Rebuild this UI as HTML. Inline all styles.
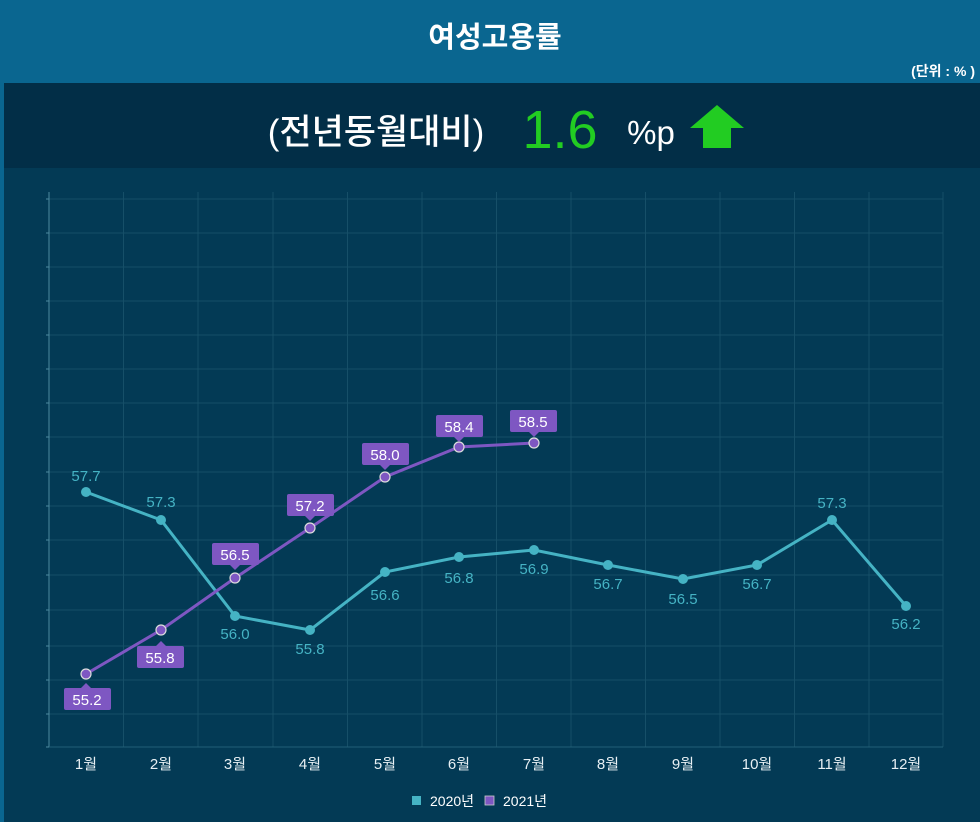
<!DOCTYPE html>
<html><head><meta charset="utf-8"><style>
body{margin:0;width:980px;height:822px;overflow:hidden;background:#033a55;font-family:"Liberation Sans","Noto Sans CJK KR",sans-serif;}
</style></head><body>
<svg width="980" height="822" xmlns="http://www.w3.org/2000/svg" style="position:absolute;left:0;top:0;font-family:'Liberation Sans','Noto Sans CJK KR',sans-serif">
<rect x="0" y="0" width="980" height="822" fill="#033a55"/>
<rect x="0" y="0" width="980" height="83" fill="#0a6690"/>
<rect x="0" y="83" width="980" height="85" fill="#022e47"/>
<rect x="0" y="83" width="4" height="739" fill="#0a6690"/>
<text x="495" y="47" font-size="29" font-weight="bold" fill="#fff" text-anchor="middle">여성고용률</text>
<text x="975" y="76" font-size="14" font-weight="bold" fill="#fff" text-anchor="end">(단위 : % )</text>
<text x="376" y="144" font-size="35" fill="#fff" text-anchor="middle" font-weight="500">(전년동월대비)</text>
<text x="560" y="148" font-size="54" fill="#22cc22" text-anchor="middle">1.6</text>
<text x="651" y="144" font-size="33" fill="#fff" text-anchor="middle">%p</text>
<polygon points="717,105 744,128 731,128 731,148 703,148 703,128 690,128" fill="#22cc22"/>
<g stroke="#164f68" stroke-width="1">
<line x1="49" y1="199" x2="943" y2="199"/><line x1="49" y1="233" x2="943" y2="233"/><line x1="49" y1="267" x2="943" y2="267"/><line x1="49" y1="301" x2="943" y2="301"/><line x1="49" y1="335" x2="943" y2="335"/><line x1="49" y1="369" x2="943" y2="369"/><line x1="49" y1="403" x2="943" y2="403"/><line x1="49" y1="437" x2="943" y2="437"/><line x1="49" y1="472" x2="943" y2="472"/><line x1="49" y1="506" x2="943" y2="506"/><line x1="49" y1="540" x2="943" y2="540"/><line x1="49" y1="575" x2="943" y2="575"/><line x1="49" y1="610" x2="943" y2="610"/><line x1="49" y1="646" x2="943" y2="646"/><line x1="49" y1="680" x2="943" y2="680"/><line x1="49" y1="714" x2="943" y2="714"/>
<line x1="123.5" y1="192" x2="123.5" y2="747"/><line x1="198" y1="192" x2="198" y2="747"/><line x1="273" y1="192" x2="273" y2="747"/><line x1="347.5" y1="192" x2="347.5" y2="747"/><line x1="422" y1="192" x2="422" y2="747"/><line x1="496.5" y1="192" x2="496.5" y2="747"/><line x1="571" y1="192" x2="571" y2="747"/><line x1="645.5" y1="192" x2="645.5" y2="747"/><line x1="720" y1="192" x2="720" y2="747"/><line x1="794.5" y1="192" x2="794.5" y2="747"/><line x1="869" y1="192" x2="869" y2="747"/><line x1="943" y1="192" x2="943" y2="747"/>
</g>
<g stroke="#4d8aa0">
<line x1="46" y1="199" x2="49" y2="199"/><line x1="46" y1="233" x2="49" y2="233"/><line x1="46" y1="267" x2="49" y2="267"/><line x1="46" y1="301" x2="49" y2="301"/><line x1="46" y1="335" x2="49" y2="335"/><line x1="46" y1="369" x2="49" y2="369"/><line x1="46" y1="403" x2="49" y2="403"/><line x1="46" y1="437" x2="49" y2="437"/><line x1="46" y1="472" x2="49" y2="472"/><line x1="46" y1="506" x2="49" y2="506"/><line x1="46" y1="540" x2="49" y2="540"/><line x1="46" y1="575" x2="49" y2="575"/><line x1="46" y1="610" x2="49" y2="610"/><line x1="46" y1="646" x2="49" y2="646"/><line x1="46" y1="680" x2="49" y2="680"/><line x1="46" y1="714" x2="49" y2="714"/><line x1="46" y1="747" x2="49" y2="747"/>
</g>
<line x1="49" y1="192" x2="49" y2="747" stroke="#4d8aa0"/>
<line x1="49" y1="747" x2="943" y2="747" stroke="#215f76"/>
<g font-size="15" fill="#e8f0f4" text-anchor="middle">
<text x="86" y="769">1월</text><text x="161" y="769">2월</text><text x="235" y="769">3월</text><text x="310" y="769">4월</text><text x="385" y="769">5월</text><text x="459" y="769">6월</text><text x="534" y="769">7월</text><text x="608" y="769">8월</text><text x="683" y="769">9월</text><text x="757" y="769">10월</text><text x="832" y="769">11월</text><text x="906" y="769">12월</text>
</g>
<polyline fill="none" stroke="#45b3c4" stroke-width="3" points="86,492 161,520 235,616 310,630 385,572 459,557 534,550 608,565 683,579 757,565 832,520 906,606"/>
<g fill="#45b3c4">
<circle cx="86" cy="492" r="5"/><circle cx="161" cy="520" r="5"/><circle cx="235" cy="616" r="5"/><circle cx="310" cy="630" r="5"/><circle cx="385" cy="572" r="5"/><circle cx="459" cy="557" r="5"/><circle cx="534" cy="550" r="5"/><circle cx="608" cy="565" r="5"/><circle cx="683" cy="579" r="5"/><circle cx="757" cy="565" r="5"/><circle cx="832" cy="520" r="5"/><circle cx="906" cy="606" r="5"/>
</g>
<g font-size="15" fill="#45b3c4" text-anchor="middle">
<text x="86" y="481">57.7</text><text x="161" y="507">57.3</text><text x="235" y="639">56.0</text><text x="310" y="654">55.8</text><text x="385" y="600">56.6</text><text x="459" y="583">56.8</text><text x="534" y="574">56.9</text><text x="608" y="589">56.7</text><text x="683" y="604">56.5</text><text x="757" y="589">56.7</text><text x="832" y="508">57.3</text><text x="906" y="629">56.2</text>
</g>
<polyline fill="none" stroke="#7e57c2" stroke-width="3" points="86,674 161,630 235,578 310,528 385,477 459,447 534,443"/>
<g fill="#7e57c2" stroke="#ddd" stroke-width="1.2">
<circle cx="86" cy="674" r="5"/><circle cx="161" cy="630" r="5"/><circle cx="235" cy="578" r="5"/><circle cx="310" cy="528" r="5"/><circle cx="385" cy="477" r="5"/><circle cx="459" cy="447" r="5"/><circle cx="534" cy="443" r="5"/>
</g>
<g fill="#7e57c2">
<rect x="64" y="688" width="47" height="22" rx="2"/><polygon points="81,688 91,688 86,683"/>
<rect x="137" y="646" width="47" height="22" rx="2"/><polygon points="156,646 166,646 161,641"/>
<rect x="212" y="543" width="47" height="22" rx="2"/><polygon points="230,565 240,565 235,570"/>
<rect x="287" y="494" width="47" height="22" rx="2"/><polygon points="305,516 315,516 310,521"/>
<rect x="362" y="443" width="47" height="22" rx="2"/><polygon points="380,465 390,465 385,470"/>
<rect x="436" y="415" width="47" height="22" rx="2"/><polygon points="454,437 464,437 459,442"/>
<rect x="510" y="410" width="47" height="22" rx="2"/><polygon points="529,432 539,432 534,437"/>
</g>
<g font-size="15" fill="#fff" text-anchor="middle">
<text x="87" y="705">55.2</text><text x="160" y="663">55.8</text><text x="235" y="560">56.5</text><text x="310" y="511">57.2</text><text x="385" y="460">58.0</text><text x="459" y="432">58.4</text><text x="533" y="427">58.5</text>
</g>
<rect x="412" y="796" width="9" height="9" fill="#45b3c4"/>
<text x="430" y="806" font-size="14" fill="#fff">2020년</text>
<rect x="485" y="796" width="9" height="9" fill="#7e57c2" stroke="#ccc" stroke-width="0.8"/>
<text x="503" y="806" font-size="14" fill="#fff">2021년</text>
</svg>
</body></html>
